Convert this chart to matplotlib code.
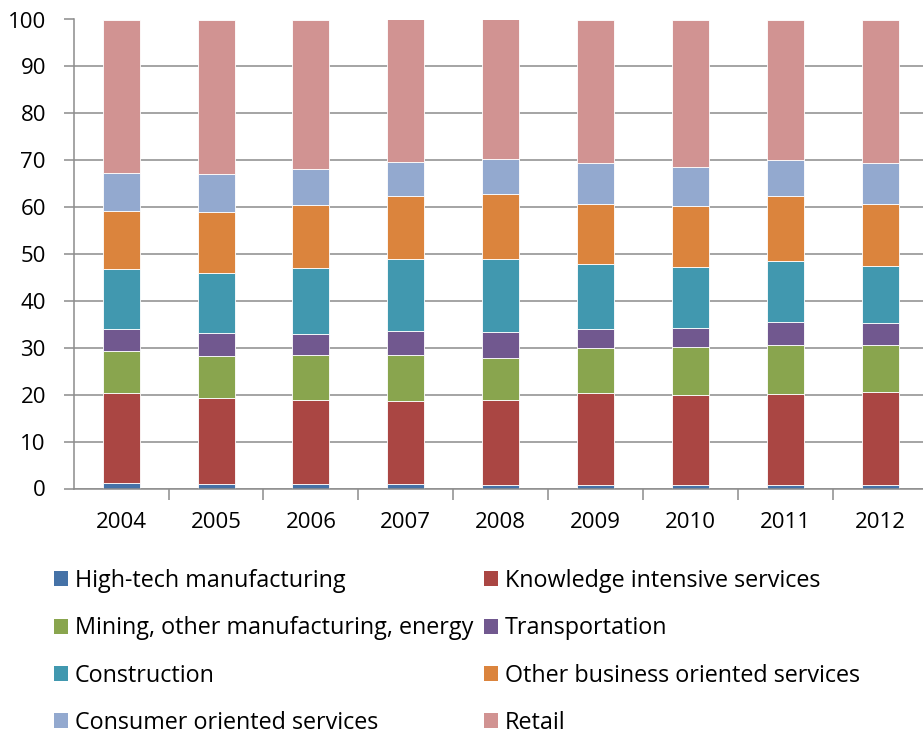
import matplotlib
matplotlib.use("Agg")
import matplotlib.pyplot as plt
import numpy as np

plt.rcParams['font.family'] = ['Open Sans', 'DejaVu Sans']

years = ['2004', '2005', '2006', '2007', '2008', '2009', '2010', '2011', '2012']
series_names = ['High-tech manufacturing', 'Knowledge intensive services',
                'Mining, other manufacturing, energy', 'Transportation',
                'Construction', 'Other business oriented services',
                'Consumer oriented services', 'Retail']

high_tech = [1.1, 1.0, 0.9, 1.0, 0.8, 0.8, 0.8, 0.7, 0.7]
knowledge = [19.2, 18.2, 18.0, 17.7, 18.1, 19.5, 19.2, 19.5, 19.9]
mining = [9.1, 9.0, 9.5, 9.7, 9.0, 9.6, 10.1, 10.3, 9.9]
transport = [4.7, 5.0, 4.6, 5.2, 5.4, 4.1, 4.2, 5.0, 4.7]
construction = [12.6, 12.8, 14.0, 15.4, 15.6, 13.9, 12.9, 13.0, 12.3]
other_business = [12.4, 13.0, 13.5, 13.4, 13.8, 12.8, 13.0, 13.9, 13.1]
consumer = [8.2, 8.1, 7.6, 7.3, 7.5, 8.6, 8.3, 7.7, 8.7]
retail = [32.7, 32.9, 31.9, 30.3, 29.8, 30.7, 31.5, 29.9, 30.7]

colors = ['#4572A7', '#AA4643', '#89A54E', '#71588F',
          '#4198AF', '#DB843D', '#93A9CF', '#D19392']

data = [high_tech, knowledge, mining, transport, construction,
        other_business, consumer, retail]

fig = plt.figure(figsize=(9.23, 7.37), dpi=100)
W, H = 923, 737
ax = fig.add_axes([73.7 / W, 1 - 488.5 / H, (927.8 - 73.7) / W, (488.5 - 19.5) / H])

x = np.arange(len(years))
bottom = np.zeros(len(years))
handles = []
for name, vals, c in zip(series_names, data, colors):
    vals = np.array(vals)
    b = ax.bar(x, vals, width=0.39, bottom=bottom, color=c, edgecolor='white',
               linewidth=0.6, label=name, zorder=3)
    handles.append(b)
    bottom += vals

ax.set_xlim(-0.5, len(years) - 0.5)
ax.set_ylim(0, 100)
ax.set_yticks(np.arange(0, 101, 10))
ax.yaxis.grid(True, color='#8c8c8c', linewidth=1.1, zorder=0)
ax.set_axisbelow(True)

ax.set_xticks(np.arange(len(years)) + 0.5)
ax.set_xticklabels([])
ax.set_xticks(x, minor=True)
ax.set_xticklabels(years, minor=True)
ax.tick_params(axis='x', which='major', length=8, width=1.1, color='#8c8c8c')
ax.tick_params(axis='x', which='minor', length=0, pad=17, labelsize=16)
ax.tick_params(axis='y', length=7, width=1.1, color='#8c8c8c', pad=13, labelsize=16)

for s in ['top', 'right']:
    ax.spines[s].set_visible(False)
for s in ['left', 'bottom']:
    ax.spines[s].set_color('#8c8c8c')
    ax.spines[s].set_linewidth(1.1)
ax.spines['bottom'].set_zorder(4)

fs = 16.8
common = dict(frameon=False, fontsize=fs, handlelength=0.6, handleheight=0.6,
              handletextpad=0.3, labelspacing=1.0, borderpad=0, borderaxespad=0,
              loc='upper left')
left_idx = [0, 2, 4, 6]
right_idx = [1, 3, 5, 7]
leg1 = fig.legend([handles[i] for i in left_idx], [series_names[i] for i in left_idx],
                  bbox_to_anchor=(54 / W, 1 - 569 / H), **common)
leg2 = fig.legend([handles[i] for i in right_idx], [series_names[i] for i in right_idx],
                  bbox_to_anchor=(484 / W, 1 - 569 / H), **common)
for leg in (leg1, leg2):
    for p in leg.get_patches():
        p.set_edgecolor('none')

fig.savefig('out.png', dpi=100)
